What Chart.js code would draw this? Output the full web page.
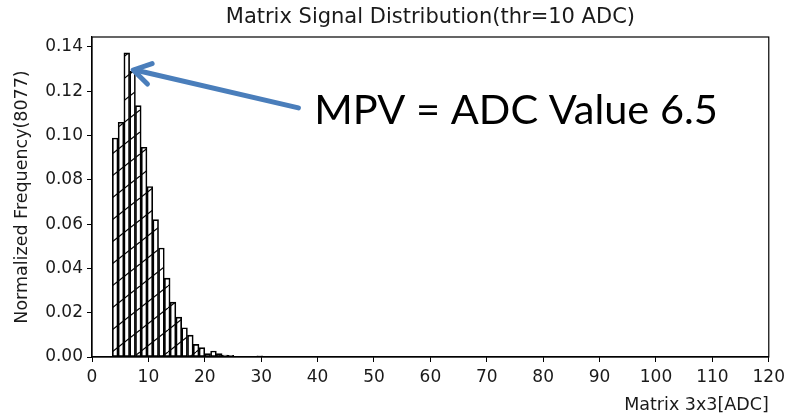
<!DOCTYPE html>
<html>
<head>
<meta charset="utf-8">
<script src="https://cdn.jsdelivr.net/npm/chart.js@4/dist/chart.umd.min.js"></script>
<style>
  html, body { margin: 0; padding: 0; background: #fff; }
  #wrap { width: 790px; height: 416px; }
</style>
</head>
<body>
<div id="wrap"><canvas id="histChart" width="790" height="416"></canvas></div>
<script>
// histogram bins (centers, ADC) and normalized frequency
const binCenters = [4.11, 5.14, 6.16, 7.19, 8.21, 9.24, 10.26, 11.29, 12.31, 13.34, 14.36,
                    15.39, 16.41, 17.44, 18.46, 19.49, 20.51, 21.54, 22.56, 23.59, 24.61, 29.74];
const binFreq = [0.0989, 0.106, 0.1373, 0.129, 0.1135, 0.0947, 0.077, 0.062, 0.0492, 0.0356, 0.0248,
                 0.018, 0.0132, 0.0099, 0.0057, 0.0042, 0.0015, 0.0027, 0.0015, 0.0009, 0.0008, 0.0005];
const xTicks = [0, 10, 20, 30, 40, 50, 60, 70, 80, 90, 100, 110, 120];
const yTicks = [0.00, 0.02, 0.04, 0.06, 0.08, 0.10, 0.12, 0.14];
const chartTitle = 'Matrix Signal Distribution(thr=10 ADC)';

// annotation (data coords)
const mpvText = 'MPV = ADC Value 6.5';
const arrowTip = [7.3, 0.1296];
const arrowTail = [36.6, 0.1125];
const textAt = [39.4, 0.1113];

// hatch pattern '/'
function makeHatch() {
    const c = document.createElement('canvas');
    c.width = 28; c.height = 22;
    const g = c.getContext('2d');
    g.strokeStyle = '#000';
    g.lineWidth = 1.2;
    [-28, 0, 28].forEach(function (dx) {
        g.beginPath();
        g.moveTo(dx, 22);
        g.lineTo(dx + 28, 0);
        g.stroke();
    });
    return g.createPattern(c, 'repeat');
}

// title over plot area, frame, arrow + big text
const extras = {
    id: 'extras',
    afterDraw(chart) {
        const ctx = chart.ctx;
        const a = chart.chartArea;
        const xs = chart.scales.x, ys = chart.scales.y;
        ctx.save();
        ctx.strokeStyle = '#000';
        ctx.lineWidth = 1.2;
        ctx.strokeRect(a.left, a.top, a.right - a.left, a.bottom - a.top);

        ctx.fillStyle = '#1a1a1a';
        ctx.font = '21px "DejaVu Sans", sans-serif';
        ctx.textAlign = 'center';
        ctx.textBaseline = 'middle';
        ctx.fillText(chartTitle, (a.left + a.right) / 2, a.top - 19);

        const tx = xs.getPixelForValue(arrowTip[0]), ty = ys.getPixelForValue(arrowTip[1]);
        const sx = xs.getPixelForValue(arrowTail[0]), sy = ys.getPixelForValue(arrowTail[1]);
        ctx.strokeStyle = '#4a7ebb';
        ctx.lineWidth = 5;
        ctx.lineCap = 'round';
        ctx.lineJoin = 'round';
        ctx.beginPath();
        ctx.moveTo(sx, sy);
        ctx.lineTo(tx + 2, ty);
        ctx.stroke();
        const ang = Math.atan2(sy - ty, sx - tx);
        const len = 20;
        ctx.beginPath();
        ctx.moveTo(tx + len * Math.cos(ang - 0.55), ty + len * Math.sin(ang - 0.55));
        ctx.lineTo(tx, ty);
        ctx.lineTo(tx + len * Math.cos(ang + 0.55), ty + len * Math.sin(ang + 0.55));
        ctx.stroke();

        ctx.fillStyle = '#000';
        ctx.font = '41.5px Lato, "Open Sans", sans-serif';
        ctx.textAlign = 'left';
        ctx.fillText(mpvText, xs.getPixelForValue(textAt[0]), ys.getPixelForValue(textAt[1]));
        ctx.restore();
    }
};

Chart.defaults.font.family = '"DejaVu Sans", sans-serif';
Chart.defaults.color = '#1a1a1a';

const ctx = document.getElementById('histChart').getContext('2d');
new Chart(ctx, {
    type: 'bar',
    data: {
        datasets: [{
            label: 'Matrix 3x3',
            data: binCenters.map((x, i) => ({ x: x, y: binFreq[i] })),
            backgroundColor: makeHatch(),
            borderColor: '#000',
            borderWidth: 1,
            borderSkipped: false,
            barPercentage: 1,
            categoryPercentage: 1
        }]
    },
    options: {
        responsive: false,
        animation: false,
        layout: { padding: { left: 0, right: 20, top: 37, bottom: 0 } },
        plugins: {
            legend: { display: false },
            tooltip: { enabled: false },
            title: { display: false }
        },
        scales: {
            x: {
                type: 'linear',
                offset: false,
                min: 0,
                max: 120,
                afterBuildTicks: s => { s.ticks = xTicks.map(v => ({ value: v })); },
                ticks: { font: { size: 17 }, padding: 5, maxRotation: 0, callback: v => String(v) },
                grid: { offset: false, drawOnChartArea: false, drawTicks: true, tickLength: 5, color: '#000' },
                border: { display: true, color: '#000', width: 1.2 },
                title: {
                    display: true,
                    text: 'Matrix 3x3[ADC]',
                    align: 'end',
                    font: { size: 17.5 },
                    padding: { top: 0, bottom: 0 }
                },
                afterFit: s => { s.height = 59; }
            },
            y: {
                min: 0,
                max: 0.1445,
                afterBuildTicks: s => { s.ticks = yTicks.map(v => ({ value: v })); },
                ticks: { font: { size: 17 }, padding: 4, callback: v => v.toFixed(2) },
                grid: { drawOnChartArea: false, drawTicks: true, tickLength: 5, color: '#000' },
                border: { display: true, color: '#000', width: 1.2 },
                title: {
                    display: true,
                    text: 'Normalized Frequency(8077)',
                    font: { size: 17.5 },
                    padding: { top: 12, bottom: 0 }
                },
                afterFit: s => { s.width = 92; }
            }
        }
    },
    plugins: [extras]
});
</script>
</body>
</html>
